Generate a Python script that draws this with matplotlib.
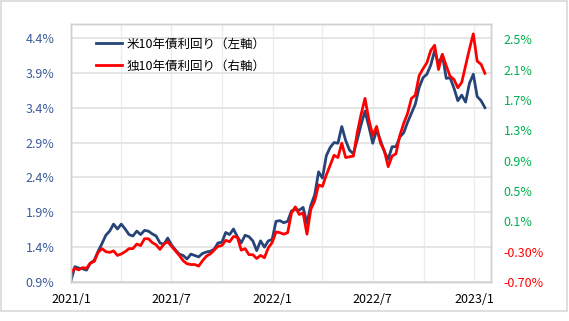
import matplotlib
matplotlib.use('Agg')
import matplotlib.pyplot as plt
import matplotlib.dates as mdates
import pandas as pd
from matplotlib.patches import Rectangle
from matplotlib.ticker import FixedLocator, FuncFormatter

plt.rcParams['font.family'] = ['Noto Sans CJK JP', 'DejaVu Sans']

# Weekly (Friday) observations
dates = pd.date_range('2021-01-01', '2023-01-20', freq='W-FRI')

us10y = [
    # 2021
    0.92, 1.12, 1.10, 1.09, 1.07,
    1.17, 1.21, 1.34, 1.45,
    1.57, 1.63, 1.73, 1.66,
    1.73, 1.66, 1.58, 1.56, 1.63,
    1.58, 1.64, 1.63, 1.59,
    1.56, 1.46, 1.44, 1.53,
    1.43, 1.36, 1.30, 1.28, 1.23,
    1.30, 1.28, 1.26, 1.31,
    1.33, 1.34, 1.37, 1.46,
    1.47, 1.61, 1.58, 1.66, 1.55,
    1.46, 1.57, 1.55, 1.49,
    1.35, 1.49, 1.40, 1.49, 1.51,
    # 2022
    1.77, 1.78, 1.75, 1.77,
    1.92, 1.94, 1.93, 1.97,
    1.74, 2.00, 2.15, 2.48,
    2.39, 2.71, 2.83, 2.90, 2.89,
    3.13, 2.93, 2.79, 2.74,
    2.94, 3.16, 3.35, 3.13,
    2.89, 3.08, 2.93, 2.77, 2.66,
    2.84, 2.84, 2.98, 3.04,
    3.19, 3.32, 3.45, 3.69, 3.83,
    3.88, 4.01, 4.22, 4.02,
    4.16, 3.82, 3.83, 3.68,
    3.50, 3.58, 3.48, 3.75, 3.88,
    # 2023
    3.56, 3.50, 3.40,
]

de10y = [
    # 2021
    -0.57, -0.52, -0.54, -0.51, -0.52,
    -0.45, -0.43, -0.31, -0.26,
    -0.30, -0.31, -0.29, -0.35,
    -0.33, -0.30, -0.26, -0.26, -0.20,
    -0.22, -0.13, -0.13, -0.18,
    -0.21, -0.27, -0.20, -0.17,
    -0.23, -0.29, -0.35, -0.42, -0.46,
    -0.47, -0.47, -0.49, -0.42,
    -0.36, -0.33, -0.28, -0.23,
    -0.22, -0.15, -0.17, -0.10, -0.11,
    -0.28, -0.26, -0.34, -0.34,
    -0.39, -0.35, -0.38, -0.25, -0.18,
    # 2022
    -0.04, -0.05, -0.07, -0.05,
    0.21, 0.29, 0.19, 0.21,
    -0.07, 0.26, 0.37, 0.58,
    0.56, 0.71, 0.84, 0.97, 0.94,
    1.13, 0.94, 0.95, 0.96,
    1.27, 1.51, 1.72, 1.44,
    1.23, 1.35, 1.13, 1.03, 0.82,
    0.96, 0.99, 1.23, 1.39,
    1.52, 1.72, 1.76, 2.02, 2.11,
    2.19, 2.35, 2.42, 2.10,
    2.30, 2.15, 2.01, 1.97,
    1.86, 1.93, 2.15, 2.37, 2.57,
    # 2023
    2.21, 2.17, 2.05,
]

series_labels = ['米10年債利回り（左軸）', '独10年債利回り（右軸）']
left_ticks = [0.9, 1.4, 1.9, 2.4, 2.9, 3.4, 3.9, 4.4]
right_ticks = [-0.7, -0.3, 0.1, 0.5, 0.9, 1.3, 1.7, 2.1, 2.5]
right_tick_labels = ['-0.70%', '-0.30%', '0.1%', '0.5%', '0.9%', '1.3%', '1.7%', '2.1%', '2.5%']

BLUE = '#264478'
RED = '#FF0000'
LEFT_LABEL = '#3B5C9A'
GREEN = '#00B050'
GRID = '#E3E3E3'
SPINE = '#D0D0D0'

fig = plt.figure(figsize=(5.69, 3.21), dpi=100)
fig.patches.append(Rectangle((0.5 / 569, 10 / 321), 566 / 569, 310.5 / 321,
                             transform=fig.transFigure, fill=False,
                             edgecolor='#D9D9D9', linewidth=1.2))

ax = fig.add_axes([71 / 569, 39 / 321, 420 / 569, 258 / 321])
ax2 = ax.twinx()

l1, = ax.plot(dates, us10y, color=BLUE, linewidth=2.0, solid_joinstyle='round')
l2, = ax2.plot(dates, de10y, color=RED, linewidth=2.0, solid_joinstyle='round')

ax.set_xlim(pd.Timestamp('2021-01-01'), pd.Timestamp('2023-01-31'))
ax.set_ylim(0.9, 4.6)
ax2.set_ylim(-0.7, 2.7)

ax.yaxis.set_major_locator(FixedLocator(left_ticks))
ax.yaxis.set_major_formatter(FuncFormatter(lambda v, p: f'{v:.1f}%'))
ax2.yaxis.set_major_locator(FixedLocator(right_ticks))
ax2.set_yticklabels(right_tick_labels)
for lab, v in zip(ax2.get_yticklabels(), right_ticks):
    lab.set_color(RED if v < 0 else GREEN)

ax.xaxis.set_major_locator(mdates.MonthLocator(bymonth=[1, 7]))
ax.xaxis.set_minor_locator(mdates.MonthLocator(bymonth=[4, 10]))
ax.xaxis.set_major_formatter(FuncFormatter(
    lambda v, p: f'{mdates.num2date(v).year}/{mdates.num2date(v).month}'))

ax.tick_params(axis='y', length=0, pad=12, labelsize=9, labelcolor=LEFT_LABEL)
ax2.tick_params(axis='y', length=0, pad=9, labelsize=9)
ax.tick_params(axis='x', which='both', length=0, pad=8, labelsize=9, labelcolor='black')

ax.grid(True, axis='y', color=GRID, linewidth=1.3)
ax.grid(True, axis='x', which='both', color='#ECECEC', linewidth=1.0)
ax.set_axisbelow(True)

for a in (ax, ax2):
    for s in a.spines.values():
        s.set_color(SPINE)
        s.set_linewidth(1.0)

ax2.legend([l1, l2], series_labels, loc='upper left',
           bbox_to_anchor=(0.06, 0.947), frameon=False, fontsize=9,
           handlelength=2.1, handletextpad=0.3, labelspacing=0.7,
           borderpad=0, borderaxespad=0)

fig.savefig('out.png', dpi=100)
